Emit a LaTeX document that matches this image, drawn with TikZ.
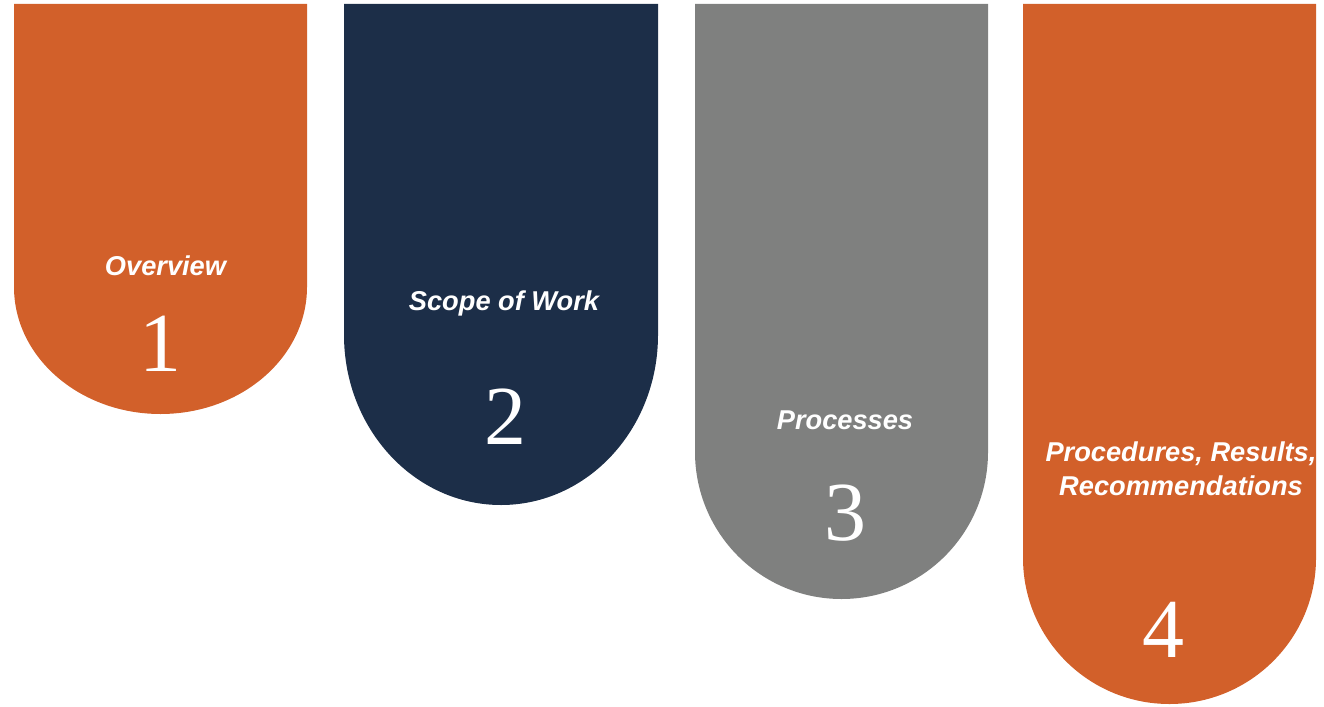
\documentclass[tikz,border=0pt]{standalone}
\usepackage{fontspec}
\setmainfont{Liberation Serif}
\setsansfont{Liberation Sans}
\definecolor{rust}{RGB}{210,96,42}
\definecolor{navy}{RGB}{28,46,72}
\definecolor{slate}{RGB}{127,128,127}

\begin{document}
\begin{tikzpicture}[x=0.02cm,y=0.02cm,
  tab text/.style={text=white,inner sep=0,anchor=base,align=center,
    font=\sffamily\bfseries\itshape\fontsize{15.5}{19.3}\selectfont},
  tab num/.style={text=white,inner sep=0,anchor=base,
    font=\rmfamily\fontsize{47.8}{47.8}\selectfont}]
  \useasboundingbox (0,0) rectangle (1324,-706);
  % the four tabs
  \fill[rust]  (14,-4) -- (14,-287) arc[start angle=180,end angle=360,x radius=146.5,y radius=127] -- (307,-4) -- cycle;
  \fill[navy]  (344,-4) -- (344,-335) arc[start angle=180,end angle=360,x radius=157,y radius=170] -- (658,-4) -- cycle;
  \fill[slate] (695,-4) -- (695,-452) arc[start angle=180,end angle=360,x radius=146.5,y radius=147] -- (988,-4) -- cycle;
  \fill[rust]  (1023,-4) -- (1023,-558) arc[start angle=180,end angle=360,x radius=146.5,y radius=146] -- (1316,-4) -- cycle;
  % titles
  \node[tab text] (overview) at (165.5,-275) {Overview};
  \node[tab text] (scope) at (504,-310) {Scope of Work};
  \node[tab text] (processes) at (845,-429.5) {Processes};
  \node[tab text] (procedures) at (1181,-495.5) {Procedures, Results,\\Recommendations};
  % numbers
  \node[tab num] (n1) at (160,-371.5) {1};
  \node[tab num] (n2) at (505,-444) {2};
  \node[tab num] (n3) at (845,-540.5) {3};
  \node[tab num] (n4) at (1163,-657.5) {4};
\end{tikzpicture}
\end{document}
